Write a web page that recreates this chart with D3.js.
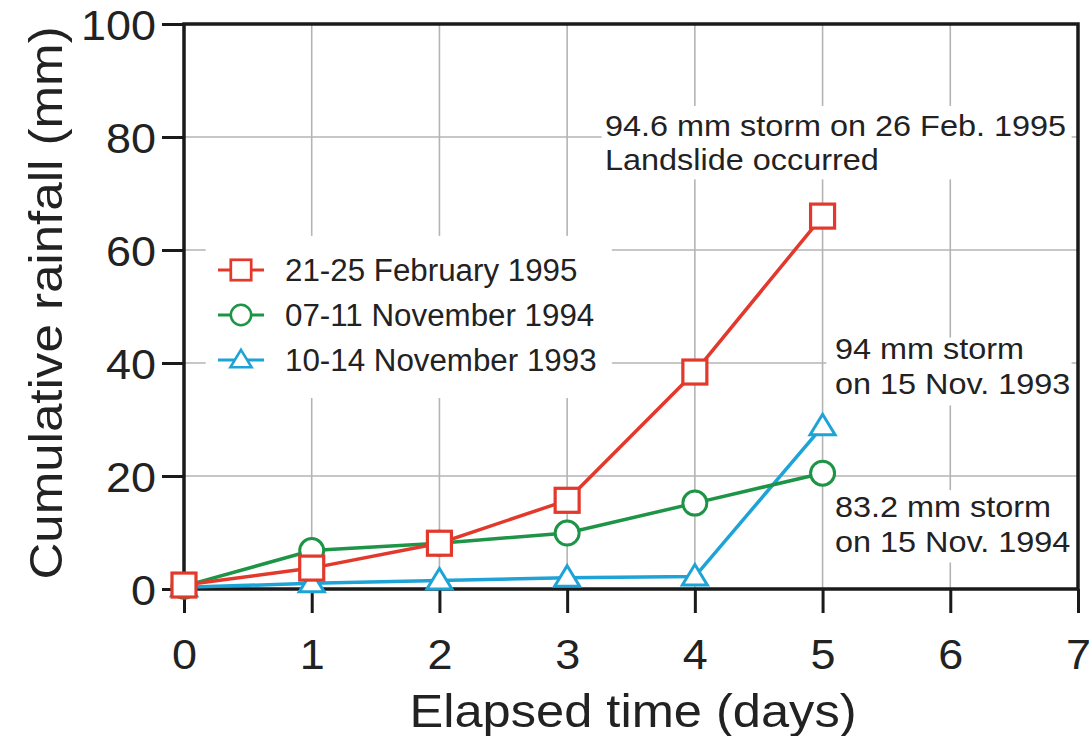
<!DOCTYPE html>
<html>
<head>
<meta charset="utf-8">
<script src="https://cdn.jsdelivr.net/npm/d3@7"></script>
<style>
  body { margin: 0; background: #fff; }
  text { font-family: "Liberation Sans", Arial, Helvetica, sans-serif; fill: #222; }
</style>
</head>
<body>
<div id="chart"></div>
<script>
// data
let days = [0, 1, 2, 3, 4, 5];
let feb1995 = [0.7, 3.7, 8.1, 15.7, 38.4, 66.0];
let nov1994 = [0.5, 6.8, 8.1, 9.9, 15.2, 20.5];
let nov1993 = [0.3, 1.0, 1.5, 2.0, 2.2, 28.8];
let seriesNames = ['21-25 February 1995', '07-11 November 1994', '10-14 November 1993'];
let xTicks = [0, 1, 2, 3, 4, 5, 6, 7];
let yTicks = [0, 20, 40, 60, 80, 100];

let svgWidth = 1089;
let svgHeight = 736;

// plot box
let margin = { top: 24, right: 11, bottom: 147, left: 184 };
let width = svgWidth - margin.left - margin.right;
let height = svgHeight - margin.top - margin.bottom;

let red = '#e3382c';
let green = '#1e9446';
let blue = '#1ea3d6';

let svg = d3.select('#chart').append('svg')
    .attr('width', svgWidth)
    .attr('height', svgHeight);

let g = svg.append('g')
    .attr('transform', `translate(${margin.left}, ${margin.top})`);

let x = d3.scaleLinear().domain([0, 7]).range([0, width]);
let y = d3.scaleLinear().domain([0, 100]).range([height, 0]);

// stretch text a little wider, like the original artwork
function stretch(sel, k) {
    sel.each(function() {
        let len = this.getComputedTextLength();
        d3.select(this).attr('textLength', len * k).attr('lengthAdjust', 'spacingAndGlyphs');
    });
}

// grid
g.append('g').selectAll('line')
    .data(xTicks.slice(1, -1))
    .enter().append('line')
    .attr('x1', d => x(d)).attr('x2', d => x(d))
    .attr('y1', 0).attr('y2', height)
    .attr('stroke', '#b4b4b4').attr('stroke-width', 1.6);

g.append('g').selectAll('line')
    .data(yTicks.slice(1, -1))
    .enter().append('line')
    .attr('x1', 0).attr('x2', width)
    .attr('y1', d => y(d)).attr('y2', d => y(d))
    .attr('stroke', '#b4b4b4').attr('stroke-width', 1.6);

// white boxes behind the texts (they cut the grid)
let boxes = [
    { x0: 0.17, x1: 3.35, y0: 62.5, y1: 33.8 },   // legend
    { x0: 3.27, x1: 6.95, y0: 85.5, y1: 72.5 },   // top note
    { x0: 5.03, x1: 6.95, y0: 44.5, y1: 32.5 },   // 94 mm
    { x0: 5.03, x1: 6.95, y0: 17.5, y1: 4.7 }     // 83.2 mm
];
g.append('g').selectAll('rect')
    .data(boxes)
    .enter().append('rect')
    .attr('x', d => x(d.x0))
    .attr('y', d => y(d.y0))
    .attr('width', d => x(d.x1) - x(d.x0))
    .attr('height', d => y(d.y1) - y(d.y0))
    .attr('fill', '#fff');

// axes
let bottomAxis = d3.axisBottom(x).tickValues(xTicks).tickFormat(d3.format('d'))
    .tickSize(24).tickPadding(26).tickSizeOuter(0);
let leftAxis = d3.axisLeft(y).tickValues(yTicks).tickFormat(d3.format('d'))
    .tickSize(22).tickPadding(6).tickSizeOuter(0);

let xAxis = g.append('g')
    .attr('transform', `translate(0, ${height})`)
    .call(bottomAxis);

let yAxis = g.append('g')
    .call(leftAxis);

[xAxis, yAxis].forEach(a => {
    a.select('.domain').remove();
    a.selectAll('line').attr('stroke', '#1a1a1a').attr('stroke-width', 3);
    a.selectAll('text').attr('fill', '#222').style('font-size', '42px')
      .style('font-family', '"Liberation Sans", Arial, sans-serif');
});
xAxis.selectAll('text').attr('dy', '0.71em');
yAxis.selectAll('text').attr('dy', '0.36em');

// frame
g.append('rect')
    .attr('x', 0).attr('y', 0)
    .attr('width', width).attr('height', height)
    .attr('fill', 'none')
    .attr('stroke', '#1a1a1a')
    .attr('stroke-width', 3.5);

stretch(xAxis.selectAll('text'), 1.07);
stretch(yAxis.selectAll('text'), 1.07);

// axis titles
let xTitle = svg.append('text')
    .attr('x', 633)
    .attr('y', 727)
    .attr('text-anchor', 'middle')
    .style('font-size', '46px')
    .text('Elapsed time (days)');
stretch(xTitle, 1.1);

let yTitle = svg.append('text')
    .attr('transform', 'translate(62, 303) rotate(-90)')
    .attr('text-anchor', 'middle')
    .style('font-size', '46px')
    .text('Cumulative rainfall (mm)');
stretch(yTitle, 1.11);

// lines and markers
let allSeries = [
    { name: seriesNames[2], values: nov1993, color: blue, shape: 'triangle' },
    { name: seriesNames[1], values: nov1994, color: green, shape: 'circle' },
    { name: seriesNames[0], values: feb1995, color: red, shape: 'square' }
];

let line = d3.line()
    .x((d, i) => x(days[i]))
    .y(d => y(d));

function drawMarker(sel, shape, color) {
    if (shape === 'square') {
        sel.append('rect')
            .attr('x', -12).attr('y', -12)
            .attr('width', 24).attr('height', 24)
            .attr('fill', '#fff').attr('stroke', color).attr('stroke-width', 3.2);
    } else if (shape === 'circle') {
        sel.append('circle')
            .attr('r', 12)
            .attr('fill', '#fff').attr('stroke', color).attr('stroke-width', 3);
    } else {
        sel.append('path')
            .attr('d', 'M0,-12 L12.5,8.5 L-12.5,8.5 Z')
            .attr('fill', '#fff').attr('stroke', color).attr('stroke-width', 3)
            .attr('stroke-linejoin', 'miter');
    }
}

allSeries.forEach(s => {
    g.append('path')
        .datum(s.values)
        .attr('d', line)
        .attr('fill', 'none')
        .attr('stroke', s.color)
        .attr('stroke-width', 3.5);
});

allSeries.forEach(s => {
    g.append('g').selectAll('g')
        .data(s.values)
        .enter().append('g')
        .attr('transform', (d, i) => `translate(${x(days[i])}, ${y(d)})`)
        .each(function() { drawMarker(d3.select(this), s.shape, s.color); });
});

// legend
let legend = svg.append('g').attr('transform', 'translate(218, 270)');
let legendItems = [
    { name: seriesNames[0], color: red, shape: 'square' },
    { name: seriesNames[1], color: green, shape: 'circle' },
    { name: seriesNames[2], color: blue, shape: 'triangle' }
];
legendItems.forEach((it, i) => {
    let row = legend.append('g').attr('transform', `translate(0, ${i * 45})`);
    row.append('line')
        .attr('x1', 0).attr('x2', 46)
        .attr('stroke', it.color).attr('stroke-width', 3);
    let m = row.append('g').attr('transform', 'translate(23, 0) scale(0.85)');
    drawMarker(m, it.shape, it.color);
    let t = row.append('text')
        .attr('x', 67)
        .attr('y', 11)
        .style('font-size', '31px')
        .text(it.name);
    stretch(t, 1.01);
});

// annotations
let notes = [
    { x: 605, y: 136, text: '94.6 mm storm on 26 Feb. 1995' },
    { x: 605, y: 170, text: 'Landslide occurred' },
    { x: 835, y: 359, text: '94 mm storm' },
    { x: 835, y: 394, text: 'on 15 Nov. 1993' },
    { x: 835, y: 517, text: '83.2 mm storm' },
    { x: 835, y: 552, text: 'on 15 Nov. 1994' }
];
notes.forEach(n => {
    let t = svg.append('text')
        .attr('x', n.x)
        .attr('y', n.y)
        .style('font-size', '30px')
        .text(n.text);
    stretch(t, 1.08);
});
</script>
</body>
</html>
